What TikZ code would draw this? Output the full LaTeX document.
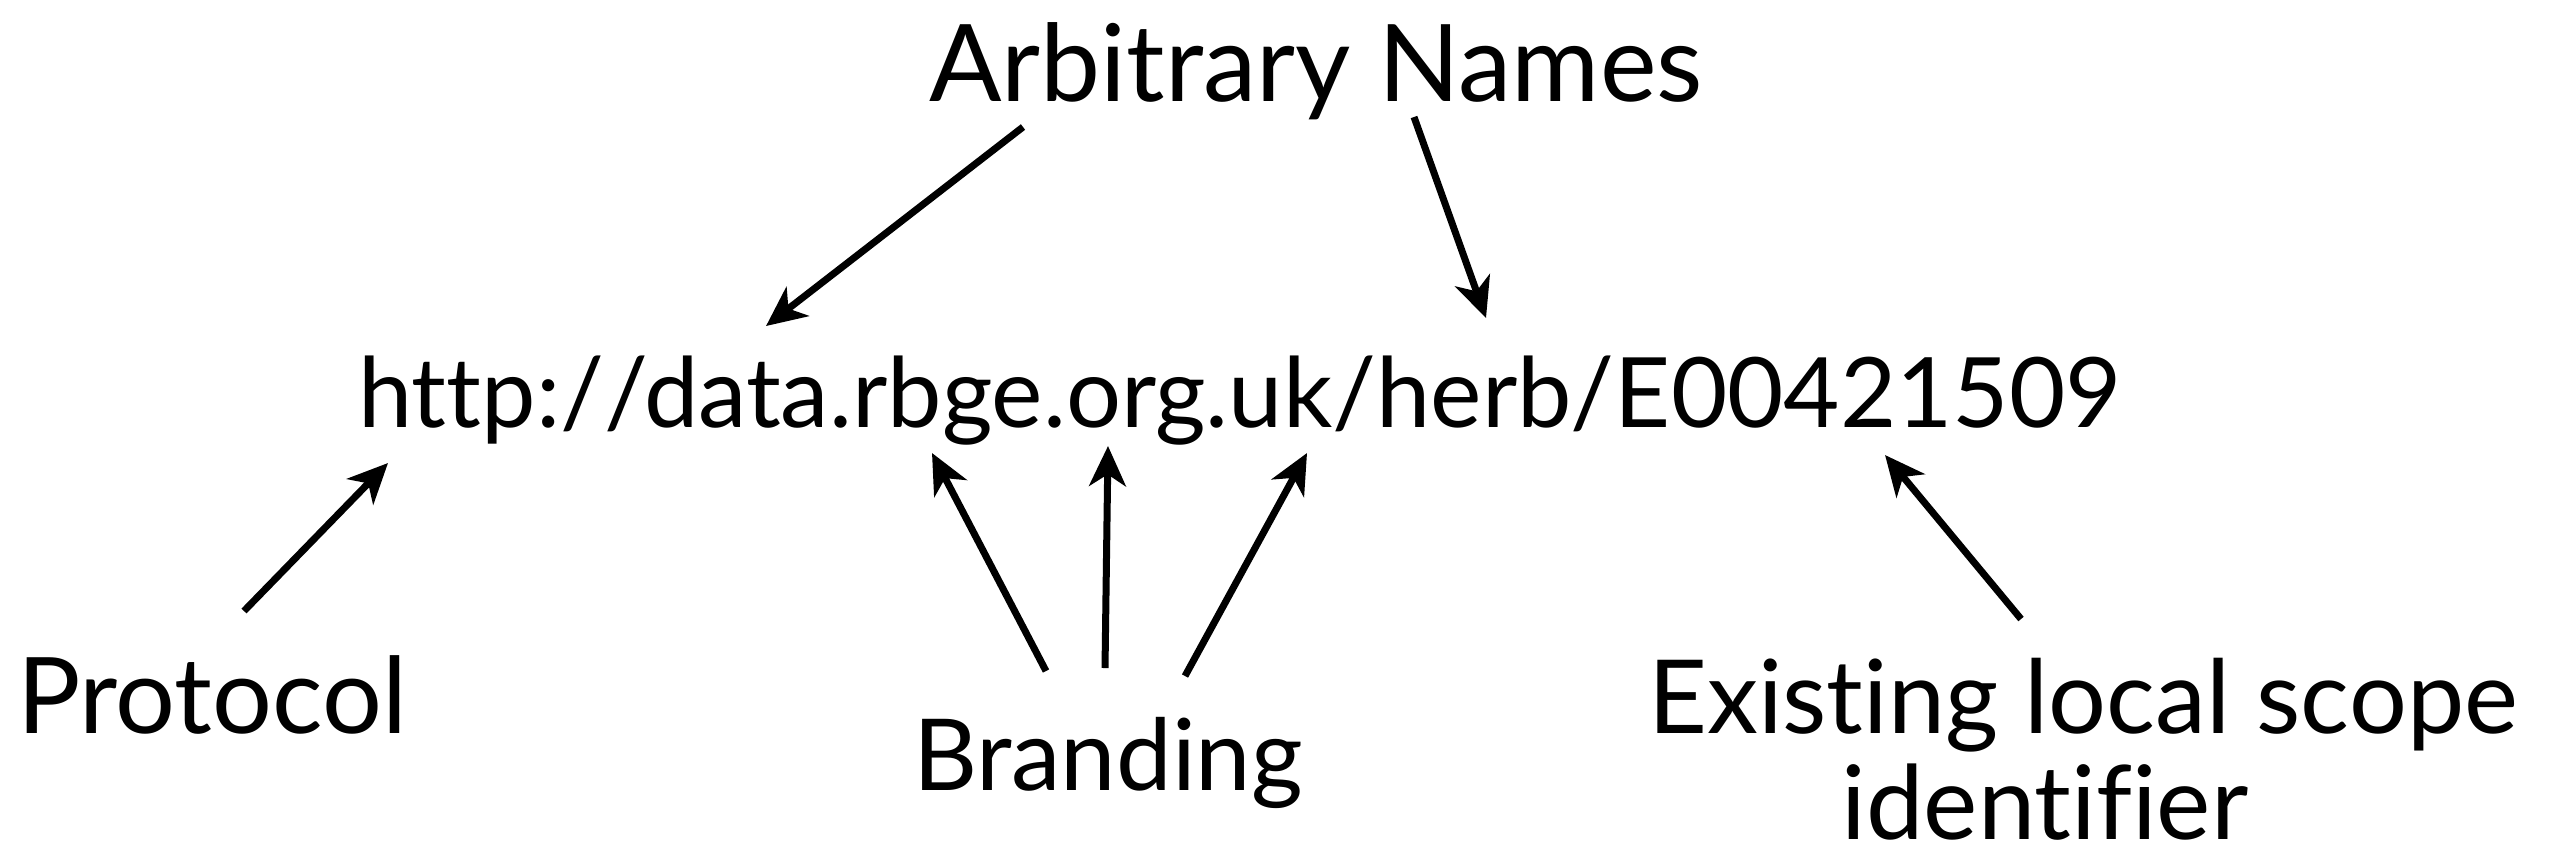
\documentclass[tikz,border=0pt]{standalone}
\usepackage{fontspec}
\setmainfont{Lato}[Ligatures={NoCommon,NoDiscretionary,NoContextual}]
\usepackage{graphicx}
\usetikzlibrary{arrows.meta}
\newcommand\fitw[2]{\resizebox{#1}{!}{#2}}
\begin{document}
\begin{tikzpicture}[x=0.3pt,y=-0.3pt,
  lbl/.style={anchor=base,inner sep=0pt,font=\fontsize{30}{36}\selectfont},
  arr/.style={line width=2.1pt,-{Stealth[length=12pt,width=11pt,inset=3.5pt]}}]
\useasboundingbox (0,0) rectangle (2555,862);
\node[lbl] (arb) at (1316,101) {\fitw{232pt}{Arbitrary Names}};
\node[lbl] (url) at (1240,427) {\fitw{529pt}{http:/\kern0pt/data.rbge.org.uk/herb/E00421509}};
\node[lbl] (proto) at (212,733) {\fitw{117pt}{Protocol}};
\node[lbl] (brand) at (1108,790) {\fitw{117pt}{Branding}};
\node[lbl] (exist) at (2083,733) {\fitw{261pt}{Existing local scope}};
\node[lbl] (ident) at (2045,839) {\fitw{122pt}{identifier}};
% arrow endpoints
\coordinate (a1s) at (1023,127); \coordinate (a1e) at (766,326);
\coordinate (a2s) at (1414,117); \coordinate (a2e) at (1486,318);
\coordinate (p1s) at (244,611);  \coordinate (p1e) at (388,463);
\coordinate (b1s) at (1046,671); \coordinate (b1e) at (932,453);
\coordinate (b2s) at (1105,668); \coordinate (b2e) at (1108,446);
\coordinate (b3s) at (1185,676); \coordinate (b3e) at (1307,453);
\coordinate (e1s) at (2021,619); \coordinate (e1e) at (1885,455);
\draw[arr] (a1s) -- (a1e);
\draw[arr] (a2s) -- (a2e);
\draw[arr] (p1s) -- (p1e);
\draw[arr] (b1s) -- (b1e);
\draw[arr] (b2s) -- (b2e);
\draw[arr] (b3s) -- (b3e);
\draw[arr] (e1s) -- (e1e);
\end{tikzpicture}
\end{document}
